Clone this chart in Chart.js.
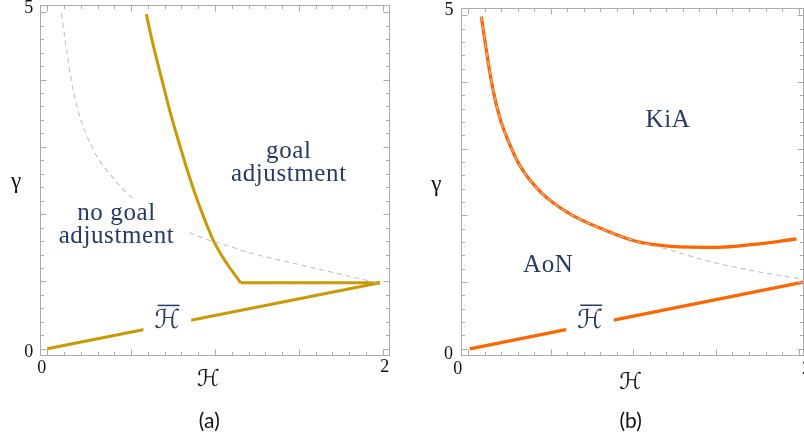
<!DOCTYPE html>
<html>
<head>
<meta charset="utf-8">
<script src="https://cdn.jsdelivr.net/npm/chart.js@4.4.1/dist/chart.umd.min.js"></script>
<style>
  html, body { margin: 0; padding: 0; background: #fff; }
  #wrap { position: relative; width: 804px; height: 440px; overflow: hidden; }
  canvas { position: absolute; top: 0; }
  #panelA { left: 0; }
  #panelB { left: 402px; }
</style>
</head>
<body>
<div id="wrap">
  <canvas id="panelA" width="402" height="440"></canvas>
  <canvas id="panelB" width="402" height="440"></canvas>
</div>
<script>
// ---- Panel (a): goal adjustment vs. no goal adjustment ----
const aIndiffH     = [0.085, 0.109, 0.143, 0.179, 0.278, 0.388, 0.507, 0.855, 1.113, 1.173, 1.571, 1.969];
const aIndiffGamma = [4.98, 4.55, 4.00, 3.58, 2.94, 2.55, 2.24, 1.72, 1.50, 1.45, 1.21, 0.98];
const aBoundH      = [0.591, 0.626, 0.675, 0.726, 0.782, 0.843, 0.912, 0.992, 1.070, 1.153];
const aBoundGamma  = [4.97, 4.57, 4.08, 3.58, 3.09, 2.59, 2.09, 1.60, 1.27, 0.98];
const aFlatH       = [1.153, 1.983];
const aFlatGamma   = [0.98, 0.98];
const aHbarH       = [0.0, 1.983];
const aHbarGamma   = [0.0, 0.98];

// ---- Panel (b): KiA vs. AoN ----
const bBoundH      = [0.080, 0.110, 0.143, 0.190, 0.263, 0.317, 0.447, 0.611, 0.797, 1.024, 1.226, 1.508, 1.731, 1.987];
const bBoundGamma  = [4.98, 4.48, 3.98, 3.48, 3.00, 2.73, 2.33, 2.03, 1.81, 1.605, 1.536, 1.521, 1.566, 1.646];
const bIndiffH     = [0.080, 0.110, 0.143, 0.190, 0.263, 0.317, 0.447, 0.611, 0.797, 1.024, 1.226, 1.428, 1.731, 2.027];
const bIndiffGamma = [4.98, 4.48, 3.98, 3.48, 3.00, 2.73, 2.33, 2.03, 1.81, 1.605, 1.48, 1.33, 1.166, 1.046];
const bHbarH       = [0.01, 2.03];
const bHbarGamma   = [0.0, 1.0];

// axis tick labels shown at the frame corners
const xTickLabels = ['0', '2'];
const yTickLabels = ['0', '5'];

const NAVY = '#273a66';
const FRAME = '#ababab';
const GOLD = '#c99a06';
const ORANGE = '#ff6600';
const DASH = '#c2c2c2';
const SERIF = '"Liberation Serif", "Times New Roman", serif';
const SCRIPT = '"DejaVu Serif", "DejaVu Sans", serif';

const pts = (xs, ys) => xs.map((v, i) => ({ x: v, y: ys[i] }));

function curve(xs, ys, color, width, extra) {
  return Object.assign({
    data: pts(xs, ys),
    borderColor: color,
    borderWidth: width,
    pointRadius: 0,
    fill: false,
    tension: 0,
    borderJoinStyle: 'round'
  }, extra || {});
}

// Frame, inward ticks, region labels and axis captions
const phasePlot = {
  id: 'phasePlot',
  afterDatasetsDraw(chart, args, o) {
    const { ctx, scales: { x, y } } = chart;
    ctx.save();
    for (const lab of o.regions) {
      const cx = x.getPixelForValue(lab.at[0]);
      const cy = y.getPixelForValue(lab.at[1]);
      ctx.font = lab.font;
      ctx.letterSpacing = lab.spacing || '0px';
      const lh = lab.lineHeight;
      const w = Math.max(...lab.lines.map(s => ctx.measureText(s).width));
      const h = lh * lab.lines.length;
      ctx.fillStyle = '#fff';
      ctx.fillRect(cx - w / 2 - lab.pad[0], cy - h / 2 - lab.pad[1], w + 2 * lab.pad[0], h + 2 * lab.pad[1]);
      ctx.fillStyle = NAVY;
      ctx.textAlign = 'center';
      ctx.textBaseline = 'middle';
      lab.lines.forEach((s, i) => ctx.fillText(s, cx, cy - h / 2 + lh * (i + 0.5)));
      if (lab.overline) {
        const m = ctx.measureText(lab.lines[0]);
        const top = cy - m.actualBoundingBoxAscent - 2.5;
        ctx.strokeStyle = NAVY;
        ctx.lineWidth = 1.5;
        ctx.beginPath();
        ctx.moveTo(cx - m.actualBoundingBoxLeft + w * 0.12, top);
        ctx.lineTo(cx + m.actualBoundingBoxRight, top);
        ctx.stroke();
      }
    }
    ctx.restore();
  },
  afterDraw(chart, args, o) {
    const { ctx, chartArea: a, scales: { x, y } } = chart;
    ctx.save();
    ctx.strokeStyle = FRAME;
    ctx.lineWidth = 1;
    ctx.strokeRect(a.left, a.top, a.right - a.left, a.bottom - a.top);
    ctx.beginPath();
    for (let i = 0; i <= 20; i++) {
      const px = Math.round(x.getPixelForValue(i / 10)) + 0.5;
      const len = i % 5 === 0 ? 6 : 3.5;
      ctx.moveTo(px, a.bottom); ctx.lineTo(px, a.bottom - len);
      ctx.moveTo(px, a.top); ctx.lineTo(px, a.top + len);
    }
    for (let i = 0; i <= 25; i++) {
      const py = Math.round(y.getPixelForValue(i / 5)) + 0.5;
      const len = i % 5 === 0 ? 6 : 3.5;
      ctx.moveTo(a.left, py); ctx.lineTo(a.left + len, py);
      ctx.moveTo(a.right, py); ctx.lineTo(a.right - len, py);
    }
    ctx.stroke();

    ctx.fillStyle = '#111';
    ctx.textAlign = 'center';
    ctx.textBaseline = 'middle';
    ctx.font = '18px ' + SERIF;
    ctx.fillText(yTickLabels[1], o.yTop[0], o.yTop[1]);
    ctx.fillText(yTickLabels[0], o.yZero[0], o.yZero[1]);
    ctx.fillText(xTickLabels[0], o.xZero[0], o.xZero[1]);
    ctx.fillText(xTickLabels[1], o.xTwo[0], o.xTwo[1]);

    ctx.font = '23px ' + SERIF;
    ctx.fillText('γ', o.gamma[0], o.gamma[1]);
    ctx.font = 'italic 23px ' + SCRIPT;
    ctx.fillText('ℋ', o.hLabel[0], o.hLabel[1]);
    ctx.font = '21px Lato, "Liberation Sans", sans-serif';
    ctx.fillText(o.caption, o.captionAt[0], o.captionAt[1]);
    ctx.restore();
  }
};

const regionFont = '25px ' + SERIF;
const hbarFont = 'italic 26px ' + SCRIPT;

function makePanel(id, datasets, xMax, padding, deco) {
  return new Chart(document.getElementById(id), {
    type: 'line',
    data: { datasets },
    options: {
      responsive: false,
      animation: false,
      events: [],
      layout: { padding },
      plugins: { legend: { display: false }, tooltip: { enabled: false }, phasePlot: deco },
      scales: {
        x: { type: 'linear', min: -0.04, max: xMax, display: false },
        y: { type: 'linear', min: -0.1, max: 5.1, display: false }
      }
    },
    plugins: [phasePlot]
  });
}

// the first dataset is painted last, so the dashed reference curve sits on top
makePanel('panelA', [
  curve(aIndiffH, aIndiffGamma, DASH, 1.1, { cubicInterpolationMode: 'monotone', borderDash: [5, 4] }),
  curve(aBoundH, aBoundGamma, GOLD, 3, { cubicInterpolationMode: 'monotone' }),
  curve(aFlatH, aFlatGamma, GOLD, 3),
  curve(aHbarH, aHbarGamma, GOLD, 3)
], 2.04, { left: 40.5, right: 12.5, top: 5.5, bottom: 84.5 }, {
  regions: [
    { lines: ['goal', 'adjustment'], at: [1.44, 2.76], font: regionFont, spacing: '0.6px', lineHeight: 22.7, pad: [8, 3] },
    { lines: ['no goal', 'adjustment'], at: [0.413, 1.84], font: regionFont, spacing: '0.6px', lineHeight: 22.7, pad: [14, 4] },
    { lines: ['ℋ'], at: [0.716, 0.41], font: hbarFont, lineHeight: 26, pad: [11, 2], overline: true }
  ],
  yTop: [28.7, 8.3], yZero: [28.7, 352.5], xZero: [41.8, 367.8], xTwo: [384.7, 367],
  gamma: [16, 181.7], hLabel: [208.3, 380], caption: '(a)', captionAt: [209.3, 421.7]
});

makePanel('panelB', [
  curve(bIndiffH, bIndiffGamma, DASH, 1.1, { cubicInterpolationMode: 'monotone', borderDash: [5, 4] }),
  curve(bBoundH, bBoundGamma, ORANGE, 3.3, { cubicInterpolationMode: 'monotone' }),
  curve(bHbarH, bHbarGamma, ORANGE, 3.3)
], 2.03, { left: 59.5, right: 0.5, top: 8.5, bottom: 84.5 }, {
  regions: [
    { lines: ['KiA'], at: [1.21, 3.42], font: regionFont, spacing: '0.6px', lineHeight: 24, pad: [6, 3] },
    { lines: ['AoN'], at: [0.485, 1.249], font: regionFont, spacing: '0.6px', lineHeight: 24, pad: [6, 3] },
    { lines: ['ℋ'], at: [0.738, 0.417], font: hbarFont, lineHeight: 26, pad: [11, 2], overline: true }
  ],
  yTop: [47, 10.5], yZero: [46.5, 353.8], xZero: [55.7, 368.8], xTwo: [404.5, 369],
  gamma: [34.3, 185], hLabel: [228.7, 383.3], caption: '(b)', captionAt: [228.7, 420.8]
});
</script>
</body>
</html>
